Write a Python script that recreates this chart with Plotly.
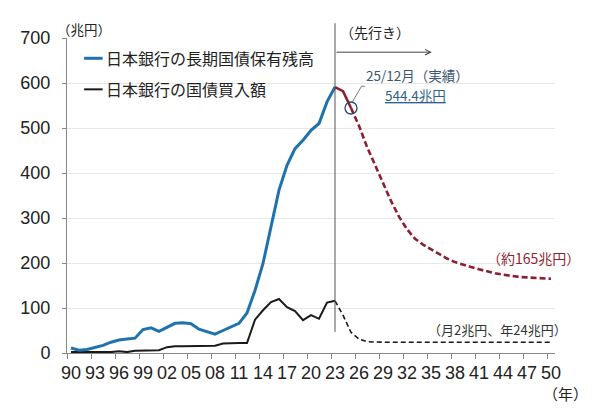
import plotly.graph_objects as go

# 日本銀行の長期国債保有残高 / 国債買入額（兆円）
hist_years = list(range(1990, 2024))
holdings = [11, 6, 8, 13, 17, 24, 29, 31, 33, 52,
            56, 48, 57, 66, 67, 65, 53, 48, 42, 50,
            58, 66, 89, 139, 199, 281, 362, 417, 454, 473,
            495, 510, 558, 591]
purchases = [2, 2, 1, 1, 1, 2, 4, 2, 5, 5,
             5, 6, 13, 15, 15, 15, 15, 15, 16, 21,
             22, 22, 22, 74, 95, 113, 120, 102, 93, 73,
             84, 76, 112, 116]

# 実績（23年→25/12月）
actual_years = [2023, 2024, 2025]
actual_holdings = [591, 582, 544.4]

# 先行き
proj_years = list(range(2025, 2051))
proj_holdings = [544.4, 505, 458, 416, 378, 338, 303, 275, 254, 241,
                 231, 220, 210, 202, 196, 191, 186, 181, 177, 174,
                 171, 169, 168, 167, 166, 165]
proj_purchase_years = list(range(2023, 2051))
proj_purchases = [116, 84, 46, 31, 25] + [24] * 23

tick_years = list(range(1990, 2051, 3))
tick_text = [f"{y % 100:02d}" for y in tick_years]

BLUE = "#1f73ad"
RED = "#8e1f33"
BLACK = "#1a1a1a"
JP = "Noto Sans CJK JP"

fig = go.Figure()

fig.add_trace(go.Scatter(x=hist_years, y=purchases, mode="lines",
                         line=dict(color=BLACK, width=2), showlegend=False))
fig.add_trace(go.Scatter(x=proj_purchase_years, y=proj_purchases, mode="lines",
                         line=dict(color=BLACK, width=1.6, dash="5px,3px"),
                         showlegend=False))
fig.add_trace(go.Scatter(x=hist_years, y=holdings, mode="lines",
                         line=dict(color=BLUE, width=3), showlegend=False))
fig.add_trace(go.Scatter(x=actual_years, y=actual_holdings, mode="lines",
                         line=dict(color=RED, width=2.6), showlegend=False))
fig.add_trace(go.Scatter(x=proj_years, y=proj_holdings, mode="lines",
                         line=dict(color=RED, width=2.6, dash="6px,3px"),
                         showlegend=False))
# 25/12月の丸印
fig.add_trace(go.Scatter(x=[actual_years[-1]], y=[actual_holdings[-1]], mode="markers",
                         marker=dict(symbol="circle-open", size=12, color="#2d4a63",
                                     line=dict(color="#2d4a63", width=1.3)),
                         showlegend=False))

# 先行きの区切り線と矢印
fig.add_shape(type="line", xref="x", yref="paper", x0=2023, x1=2023,
              y0=0.067, y1=1.047, line=dict(color="#555", width=1))
fig.add_annotation(x=2035.1, y=0.955, xref="x", yref="paper",
                   ax=2023, ay=0, axref="x", ayref="pixel",
                   showarrow=True, arrowhead=5, arrowsize=1.1, arrowwidth=1,
                   arrowcolor="#444", text="")

# 凡例（手描き）
fig.add_shape(type="line", xref="paper", yref="paper", x0=0.035, x1=0.073,
              y0=0.9356, y1=0.9356, line=dict(color=BLUE, width=3))
fig.add_shape(type="line", xref="paper", yref="paper", x0=0.035, x1=0.073,
              y0=0.837, y1=0.837, line=dict(color=BLACK, width=2))

# 吹き出しの引き出し線
fig.add_shape(type="path", xref="paper", yref="paper",
              path="M 0.5846 0.7968 L 0.6035 0.8467 L 0.611 0.8467",
              line=dict(color="#777", width=1))

notes = [
    dict(text="日本銀行の長期国債保有残高", x=0.076, y=0.9356, size=16, color="#222"),
    dict(text="日本銀行の国債買入額", x=0.076, y=0.837, size=16, color="#222"),
    dict(text="（兆円）", x=-0.024, y=1.0276, size=13.5, color="#222"),
    dict(text="（先行き）", x=0.556, y=1.018, size=14, color="#222"),
    dict(text="25/12月（実績）", x=0.609, y=0.8816, size=13.5, color="#3b5670"),
    dict(text="<u>544.4兆円</u>", x=0.648, y=0.818, size=13.5, color="#2f5f8f"),
    dict(text="（約165兆円）", x=0.856, y=0.3006, size=14, color=RED),
    dict(text="（月2兆円、年24兆円）", x=0.735, y=0.0752, size=13, color="#333"),
]
for n in notes:
    fig.add_annotation(text=n["text"], x=n["x"], y=n["y"], xref="paper", yref="paper",
                       xanchor="left", yanchor="middle", showarrow=False,
                       font=dict(family=JP, size=n["size"], color=n["color"]))
fig.add_annotation(text="（年）", x=1.022, y=-0.127, xref="paper", yref="paper",
                   xanchor="center", yanchor="middle", showarrow=False,
                   font=dict(family=JP, size=15, color="#222"))

fig.update_xaxes(
    range=[1989.5, 2050.5],
    tickmode="array", tickvals=tick_years, ticktext=tick_text,
    ticks="", showgrid=False, zeroline=False,
    showline=True, linecolor="#888", linewidth=1,
    minor=dict(tick0=1989.5, dtick=3, ticks="outside", ticklen=5,
               tickcolor="#888", showgrid=False),
    tickfont=dict(family="Liberation Sans", size=18, color="#222"),
    ticklabelstandoff=3,
)
fig.update_yaxes(
    range=[0, 700], dtick=100,
    showgrid=True, gridcolor="#e8e8e8", gridwidth=1, zeroline=False,
    showline=True, linecolor="#888", linewidth=1,
    ticks="outside", ticklen=4, tickcolor="#888",
    tickfont=dict(family="Liberation Sans", size=18, color="#222"),
    ticklabelstandoff=8,
)

# ページ本体の余白(8px)を見込んだサイズ
fig.update_layout(
    width=592, height=402,
    margin=dict(l=54, r=45, t=30, b=57),
    plot_bgcolor="white", paper_bgcolor="white",
    showlegend=False,
)

fig.write_html("out.html")
